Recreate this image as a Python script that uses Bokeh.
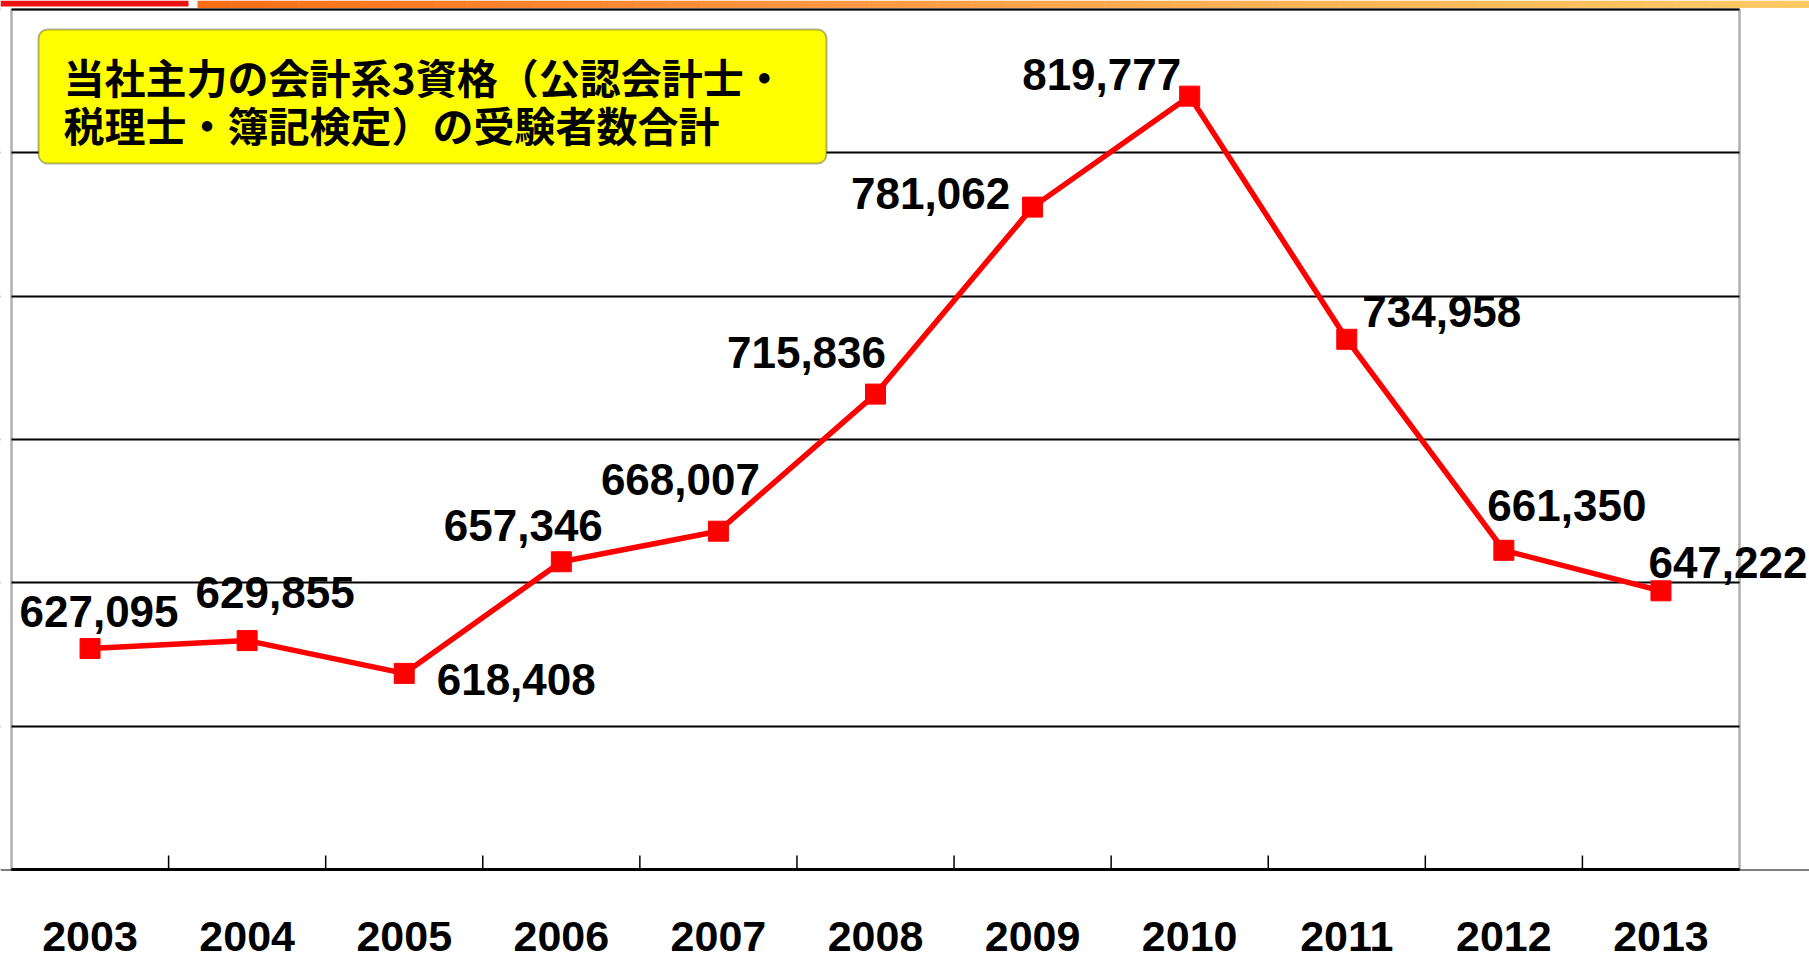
from bokeh.plotting import figure
from bokeh.models import (ColumnDataSource, LabelSet, Label, BoxAnnotation, Range1d,
                          SingleIntervalTicker)
from bokeh.core.properties import value
from bokeh.embed import file_html
from bokeh.resources import INLINE

# ---- data ----
years = ["2003", "2004", "2005", "2006", "2007", "2008", "2009", "2010", "2011", "2012", "2013"]
examinees = [627095, 629855, 618408, 657346, 668007, 715836, 781062, 819777, 734958, 661350, 647222]
title_lines = ["当社主力の会計系3資格（公認会計士・", "税理士・簿記検定）の受験者数合計"]

# axis settings
y_min, y_max, y_step = 550000, 850000, 50000

# label placement (screen-pixel offsets from each point)
label_dx = [9, 28, 112, -38, -38, -69, -102, -88, 95, 63, 67]
label_dy = [37, 48, -6, 36, 52, 42, 14, 22, 28, 45, 28]

# ---- layout (pixels) ----
W, H = 1809, 959
plot_left, plot_right, plot_top, plot_bottom = 11, 1739, 9, 869
tick_len = 14
year_label_drop = 67
n = len(years)
px_per_x = (plot_right - plot_left) / n
px_per_y = (plot_bottom - plot_top) / (y_max - y_min)
x_start = -plot_left / px_per_x
x_end = n + (W - plot_right) / px_per_x
y_end = y_max + plot_top / px_per_y
y_start = y_min - (H - plot_bottom) / px_per_y

xs = [i + 0.5 for i in range(n)]
boundaries = [i for i in range(1, n)]

src = ColumnDataSource(dict(
    x=xs, y=examinees, label=[f"{v:,}" for v in examinees],
    dx=label_dx, dy=label_dy,
))
ysrc = ColumnDataSource(dict(x=xs, y=[y_min] * n, year=years))

p = figure(width=W, height=H, output_backend="svg", toolbar_location=None,
           x_range=Range1d(x_start, x_end), y_range=Range1d(y_start, y_end),
           min_border_left=0, min_border_top=0, min_border_right=0, min_border_bottom=0)
p.background_fill_color = "white"
p.border_fill_color = "white"
p.outline_line_color = None

p.xgrid.visible = False
p.xaxis.visible = False
p.yaxis.visible = False
p.ygrid.ticker = SingleIntervalTicker(interval=y_step)
p.ygrid.grid_line_color = "black"
p.ygrid.grid_line_width = 1.8

# hide grid lines outside the plot box, then draw the plot box border
for l, r in [(x_start, 0), (n, x_end)]:
    p.add_layout(BoxAnnotation(left=l, right=r, bottom=y_min, top=y_end,
                               fill_color="white", fill_alpha=1.0, line_color=None,
                               level="underlay"))
p.add_layout(BoxAnnotation(left=0, right=n, bottom=y_min, top=y_max,
                           fill_alpha=0.0, line_color="black", line_width=2.6,
                           level="underlay"))
# bottom axis line (heavier)
p.add_layout(BoxAnnotation(left=0, right=n, bottom=y_min - 1.5 / px_per_y, top=y_min + 1.5 / px_per_y,
                           fill_color="black", fill_alpha=1.0, line_color=None,
                           level="underlay"))

# category boundary ticks (pointing inward)
p.segment(x0=boundaries, x1=boundaries, y0=[y_min] * len(boundaries),
          y1=[y_min + tick_len / px_per_y] * len(boundaries),
          line_color="black", line_width=1.5)

p.line("x", "y", source=src, line_color="#FF0000", line_width=5.5)
p.scatter("x", "y", source=src, marker="square", size=20,
          fill_color="#FF0000", line_color="#FF0000")

labels = LabelSet(x="x", y="y", text="label", x_offset="dx", y_offset="dy", source=src,
                  text_align="center", text_baseline="middle",
                  text_font=value("Liberation Sans"), text_font_style="bold",
                  text_font_size="44px", text_color="black")
p.add_layout(labels)

year_labels = LabelSet(x="x", y="y", text="year", y_offset=-year_label_drop, source=ysrc,
                       text_align="center", text_baseline="middle",
                       text_font=value("Liberation Sans"), text_font_style="bold",
                       text_font_size="43px", text_color="black")
p.add_layout(year_labels)

# ---- slide header strip (decoration above the chart) ----
fh = H  # frame height in screen px (y measured from frame bottom)
p.add_layout(BoxAnnotation(left=0, right=188, top=fh, bottom=fh - 6,
                           left_units="screen", right_units="screen",
                           top_units="screen", bottom_units="screen",
                           fill_color="#EE1111", fill_alpha=1.0, line_color=None))
stops = [(197, (255, 110, 20)), (800, (255, 150, 65)), (1200, (255, 175, 85)), (W, (255, 202, 100))]
nseg = 48
seg_w = (W - 197) / nseg
for k in range(nseg):
    x0 = 197 + k * seg_w
    xm = x0 + seg_w / 2
    for (a, ca), (b, cb) in zip(stops[:-1], stops[1:]):
        if a <= xm <= b:
            t = (xm - a) / (b - a)
            c = tuple(int(round(ca[j] + (cb[j] - ca[j]) * t)) for j in range(3))
            break
    p.add_layout(BoxAnnotation(left=x0, right=x0 + seg_w + 0.5, top=fh, bottom=fh - 7.5,
                               left_units="screen", right_units="screen",
                               top_units="screen", bottom_units="screen",
                               fill_color="#%02x%02x%02x" % c, fill_alpha=1.0, line_color=None))

# ---- title box ----
box = BoxAnnotation(left=38, right=826, top=fh - 29, bottom=fh - 163,
                    left_units="screen", right_units="screen",
                    top_units="screen", bottom_units="screen",
                    fill_color="#FFFF00", fill_alpha=1.0,
                    line_color="black", line_width=2, border_radius=9)
p.add_layout(box)

for t, yy in zip(title_lines, [fh - 75, fh - 123]):
    p.add_layout(Label(x=63, y=yy, x_units="screen", y_units="screen", text=t,
                       text_align="left", text_baseline="middle",
                       text_font="Noto Sans CJK JP", text_font_style="bold",
                       text_font_size="41px", text_color="black"))

open("out.html", "w").write(file_html(p, INLINE))
